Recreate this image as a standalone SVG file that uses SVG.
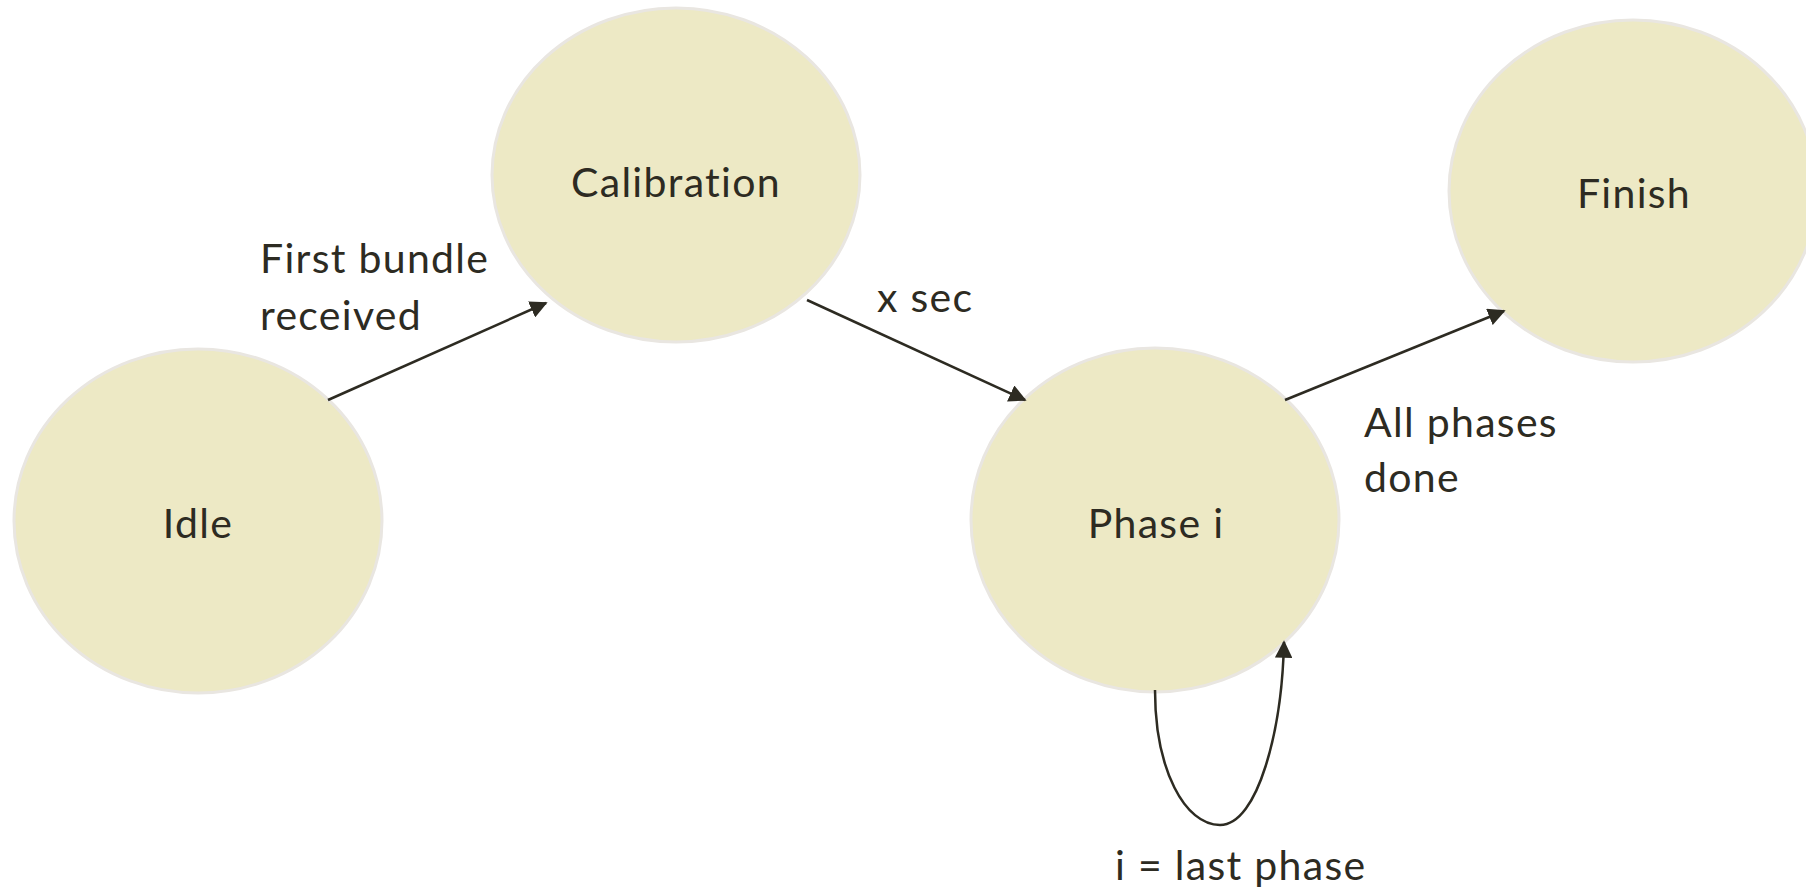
<svg xmlns="http://www.w3.org/2000/svg" width="1806" height="892" viewBox="0 0 1806 892">
  <style>
    .state { fill: #EDE9C5; stroke: #E9E6E1; stroke-width: 3; }
    .label { font-family: Lato, "Liberation Sans", sans-serif; font-size: 41px; letter-spacing: 1.3px; fill: #2D2B22; }
    .name { text-anchor: middle; }
    .edge { fill: none; stroke: #2D2B22; stroke-width: 2.5; marker-end: url(#arrow); }
  </style>
  <defs>
    <marker id="arrow" viewBox="0 0 10 10" refX="9" refY="5" markerWidth="7" markerHeight="7" markerUnits="strokeWidth" orient="auto">
      <path d="M0,0 L10,5 L0,10 z" fill="#2D2B22"/>
    </marker>
  </defs>
  <rect width="1806" height="892" fill="#FFFFFF"/>

  <g id="node-idle">
    <ellipse class="state" cx="198" cy="521" rx="184" ry="172"/>
    <text class="label name" x="198" y="538">Idle</text>
  </g>
  <g id="node-calibration">
    <ellipse class="state" cx="676" cy="175" rx="184" ry="167"/>
    <text class="label name" x="676" y="197">Calibration</text>
  </g>
  <g id="node-phase">
    <ellipse class="state" cx="1155" cy="520" rx="184" ry="172"/>
    <text class="label name" x="1156" y="538">Phase i</text>
  </g>
  <g id="node-finish">
    <ellipse class="state" cx="1633" cy="191" rx="184" ry="171"/>
    <text class="label name" x="1634" y="208">Finish</text>
  </g>

  <g id="connectors">
    <line class="edge" x1="328" y1="400" x2="546" y2="303"/>
    <line class="edge" x1="807" y1="300" x2="1025" y2="400"/>
    <line class="edge" x1="1285" y1="400" x2="1504" y2="311"/>
    <path class="edge" d="M1155,690 C1155,770 1185,825 1220,825 C1258,825 1282,730 1284,642"/>
  </g>

  <g id="edge-labels">
    <text class="label" x="260" y="273">First bundle</text>
    <text class="label" x="260" y="330">received</text>
    <text class="label" x="877" y="312">x sec</text>
    <text class="label" x="1364" y="437">All phases</text>
    <text class="label" x="1364" y="492">done</text>
    <text class="label" x="1115" y="880">i = last phase</text>
  </g>
</svg>
